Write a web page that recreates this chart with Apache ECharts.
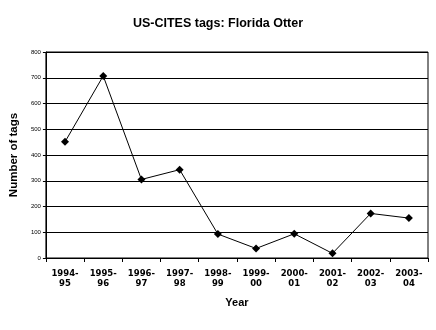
<!DOCTYPE html>
<html><head><meta charset="utf-8">
<script src="https://cdn.jsdelivr.net/npm/echarts@6/dist/echarts.min.js"></script>
<style>html,body{margin:0;padding:0;background:#fff}#c{width:436px;height:330px}</style>
</head><body><div id="c"></div>
<script>
const categories = ['1994-\n95','1995-\n96','1996-\n97','1997-\n98','1998-\n99','1999-\n00','2000-\n01','2001-\n02','2002-\n03','2003-\n04'];
const tags = [451, 707, 305, 343, 93, 37, 94, 18, 173, 155];
const yTicks = {min: 0, max: 800, interval: 100};
const chart = echarts.init(document.getElementById('c'), null, {renderer: 'canvas'});
chart.setOption({
  animation: false,
  backgroundColor: '#ffffff',
  title: {
    text: 'US-CITES tags: Florida Otter',
    left: 213, top: 12, textAlign: 'center',
    textStyle: {fontFamily: 'Liberation Sans, Arial', fontWeight: 'bold', fontSize: 12.5, color: '#000'}
  },
  grid: {left: 44, right: 8, top: 52, bottom: 72, show: true, borderColor: '#000', borderWidth: 1, backgroundColor: 'transparent'},
  xAxis: {
    type: 'category', data: categories, boundaryGap: true,
    name: 'Year', nameLocation: 'middle', nameGap: 39,
    nameTextStyle: {fontFamily: 'Liberation Sans, Arial', fontWeight: 'bold', fontSize: 11, color: '#000'},
    axisLine: {lineStyle: {color: '#000', width: 1}},
    axisTick: {show: true, length: 4, alignWithLabel: false, lineStyle: {color: '#000'}},
    axisLabel: {margin: 11, fontFamily: 'DejaVu Sans', fontWeight: 'bold', fontSize: 8.5, lineHeight: 10, color: '#000', interval: 0},
    splitLine: {show: false}
  },
  yAxis: {
    type: 'value', min: yTicks.min, max: yTicks.max, interval: yTicks.interval,
    name: 'Number of tags', nameLocation: 'middle', nameGap: 17, nameRotate: 90,
    nameTextStyle: {fontFamily: 'Liberation Sans, Arial', fontWeight: 'bold', fontSize: 11.5, color: '#000'},
    axisLine: {show: true, lineStyle: {color: '#000', width: 1}},
    axisTick: {show: true, length: 3, lineStyle: {color: '#000'}},
    axisLabel: {margin: 5, fontFamily: 'Liberation Sans, Arial', fontSize: 6, color: '#000'},
    splitLine: {show: true, lineStyle: {color: '#000', width: 1}}
  },
  series: [{
    type: 'line', data: tags,
    symbol: 'diamond', symbolSize: 8,
    itemStyle: {color: '#000'},
    lineStyle: {color: '#000', width: 1}
  }]
});
</script></body></html>
